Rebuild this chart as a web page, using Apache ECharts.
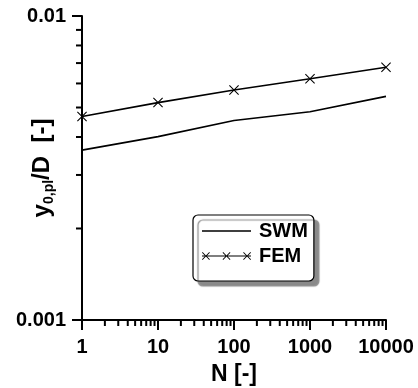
<!DOCTYPE html>
<html>
<head>
<meta charset="utf-8">
<script src="https://cdn.jsdelivr.net/npm/echarts@6/dist/echarts.min.js"></script>
<style>
  html, body { margin: 0; padding: 0; background: #fff; }
  #main { width: 418px; height: 388px; }
</style>
</head>
<body>
<div id="main"></div>
<script>
// data
const nValues = [1, 10, 100, 1000, 10000];
const swmValues = [0.00362, 0.00401, 0.00453, 0.00484, 0.00544];
const femValues = [0.00467, 0.00519, 0.00571, 0.00622, 0.00678];
const xTickLabels = ["1", "10", "100", "1000", "10000"];
const yTickLabels = ["0.001", "0.01"];
const xMinorTicks = [2, 3, 4, 5, 6, 7, 8, 9, 20, 30, 40, 50, 60, 70, 80, 90,
  200, 300, 400, 500, 600, 700, 800, 900, 2000, 3000, 4000, 5000, 6000, 7000, 8000, 9000];
const yMinorTicks = [0.002, 0.003, 0.004, 0.005, 0.006, 0.007, 0.008, 0.009];

const FONT = '"Liberation Sans", Arial, sans-serif';

// x-shaped marker as a filled outline
function crossPath(cx, cy, h, t) {
  const p = [
    [cx - h, cy - h + t], [cx - h + t, cy - h], [cx, cy - t], [cx + h - t, cy - h],
    [cx + h, cy - h + t], [cx + t, cy], [cx + h, cy + h - t], [cx + h - t, cy + h],
    [cx, cy + t], [cx - h + t, cy + h], [cx - h, cy + h - t], [cx - t, cy]
  ];
  return "M" + p.map(q => q[0] + " " + q[1]).join(" L") + " Z";
}
// tiny corner specks keep the icon box 50x10 so the bar is not stretched
const iconBox = "M0 0 L0.01 0 L0 0.01 Z M50 10 L49.99 10 L50 9.99 Z ";
const markerPath = "path://" + crossPath(5, 5, 5, 0.75);
const swmIcon = "path://" + iconBox + "M0 4.3 L50 4.3 L50 5.7 L0 5.7 Z";
const femIcon = "path://" + iconBox + "M0 4.4 L50 4.4 L50 5.6 L0 5.6 Z " +
  crossPath(4, 5, 4, 0.6) + " " + crossPath(25, 5, 4, 0.6) + " " + crossPath(46, 5, 4, 0.6);

const chart = echarts.init(document.getElementById("main"));

function tickSeries(values, onX) {
  return {
    type: "custom",
    coordinateSystem: "cartesian2d",
    clip: false,
    silent: true,
    data: values.map(v => onX ? [v, 0.001] : [1, v]),
    renderItem: function (params, api) {
      const pt = api.coord([api.value(0), api.value(1)]);
      const shape = onX
        ? { x1: pt[0], y1: pt[1], x2: pt[0], y2: pt[1] + 6 }
        : { x1: pt[0], y1: pt[1], x2: pt[0] - 6, y2: pt[1] };
      return { type: "line", shape: shape, style: { stroke: "#000", lineWidth: 2 } };
    }
  };
}

chart.setOption({
  animation: false,
  backgroundColor: "#fff",
  grid: { left: 82, right: 32, top: 16, bottom: 68, containLabel: false, outerBoundsMode: "none" },
  legend: {
    orient: "vertical",
    left: 193,
    top: 215,
    padding: [6, 6, 15, 9],
    itemWidth: 49,
    itemHeight: 10,
    itemGap: 5,
    backgroundColor: "#fff",
    borderColor: "#000",
    borderWidth: 1.2,
    borderRadius: 5,
    shadowColor: "#8a8a8a",
    shadowBlur: 1,
    shadowOffsetX: 5,
    shadowOffsetY: 5,
    textStyle: { fontFamily: FONT, fontWeight: "bold", fontSize: 20, color: "#000", padding: [0, 0, 0, 3] },
    data: [
      { name: "SWM", icon: swmIcon },
      { name: "FEM", icon: femIcon }
    ]
  },
  xAxis: {
    type: "log",
    logBase: 10,
    min: 1,
    max: 10000,
    interval: 1,
    name: "N [-]",
    nameLocation: "middle",
    nameGap: 43,
    nameMoveOverlap: false,
    nameTextStyle: { fontFamily: FONT, fontWeight: "bold", fontSize: 23, color: "#000" },
    axisLine: { lineStyle: { color: "#000", width: 2 } },
    axisTick: { show: true, inside: false, length: 10, lineStyle: { color: "#000", width: 2 } },
    axisLabel: {
      margin: 17,
      fontFamily: FONT, fontWeight: "bold", fontSize: 20, color: "#000",
      formatter: v => xTickLabels[Math.round(Math.log10(v))]
    },
    splitLine: { show: false }
  },
  yAxis: {
    type: "log",
    logBase: 10,
    min: 0.001,
    max: 0.01,
    interval: 1,
    name: "{y|y}{s|0,pl}{d|/D  [-]}",
    nameLocation: "middle",
    nameGap: 26,
    nameMoveOverlap: false,
    nameTextStyle: {
      fontFamily: FONT, fontWeight: "bold", color: "#000",
      rich: {
        y: { fontFamily: FONT, fontWeight: "bold", fontSize: 24, lineHeight: 28, color: "#000" },
        s: { fontFamily: FONT, fontWeight: "bold", fontSize: 14, lineHeight: 15, verticalAlign: "bottom", color: "#000" },
        d: { fontFamily: FONT, fontWeight: "bold", fontSize: 24, lineHeight: 28, color: "#000" }
      }
    },
    axisLine: { lineStyle: { color: "#000", width: 2 } },
    axisTick: { show: true, inside: false, length: 10, lineStyle: { color: "#000", width: 2 } },
    axisLabel: {
      margin: 16,
      fontFamily: FONT, fontWeight: "bold", fontSize: 20, color: "#000",
      formatter: v => yTickLabels[Math.round(Math.log10(v)) + 3]
    },
    splitLine: { show: false }
  },
  series: [
    {
      name: "SWM",
      type: "line",
      symbol: "none",
      color: "#000",
      lineStyle: { color: "#000", width: 1.6 },
      data: nValues.map((n, i) => [n, swmValues[i]])
    },
    {
      name: "FEM",
      type: "line",
      symbol: markerPath,
      symbolSize: 10,
      color: "#000",
      itemStyle: { color: "#000" },
      lineStyle: { color: "#000", width: 1.6 },
      data: nValues.map((n, i) => [n, femValues[i]])
    },
    tickSeries(xMinorTicks, true),
    tickSeries(yMinorTicks, false)
  ]
});
</script>
</body>
</html>
